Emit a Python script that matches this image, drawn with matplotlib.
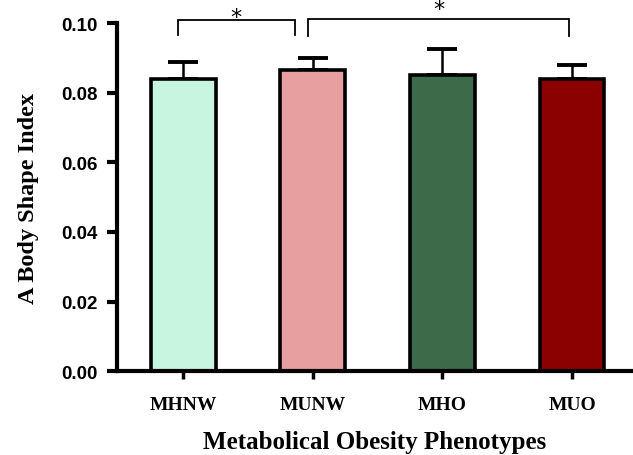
import matplotlib
matplotlib.use("Agg")
import matplotlib.pyplot as plt

categories = ["MHNW", "MUNW", "MHO", "MUO"]
means = [0.0840, 0.0864, 0.0851, 0.0840]
sds = [0.0048, 0.0037, 0.0074, 0.0039]
colors = ["#C8F5DF", "#E89FA0", "#3D6B4A", "#8B0000"]
yticks = [0.00, 0.02, 0.04, 0.06, 0.08, 0.10]
ytick_labels = ["0.00", "0.02", "0.04", "0.06", "0.08", "0.10"]

fig = plt.figure(figsize=(6.33, 4.56), dpi=100)
ax = fig.add_axes([0.185, 0.184, 0.815, 0.763])

x = list(range(len(categories)))
ax.bar(x, means, width=0.5, color=colors, edgecolor="black", linewidth=2.6, zorder=2)
ax.errorbar(x, means, yerr=[[0]*len(sds), sds], fmt="none", ecolor="black",
            elinewidth=1.8, capsize=11, capthick=2.8, zorder=1)

ax.set_xlim(-0.51, 3.47)
ax.set_ylim(0, 0.10)
ax.set_yticks(yticks)
ax.set_yticklabels(ytick_labels, fontfamily="Liberation Sans", fontweight="bold", fontsize=13.5)
ax.set_xticks(x)
ax.set_xticklabels(categories, fontfamily="Liberation Serif", fontweight="bold", fontsize=14)

for s in ["top", "right"]:
    ax.spines[s].set_visible(False)
for s in ["left", "bottom"]:
    ax.spines[s].set_linewidth(3)
ax.tick_params(axis="y", direction="out", length=7, width=3, pad=7)
ax.tick_params(axis="x", direction="out", length=6, width=2.5, pad=12)

ax.set_ylabel("A Body Shape Index", fontfamily="Liberation Serif", fontweight="bold", fontsize=17.5, labelpad=16)
ax.set_xlabel("Metabolical Obesity Phenotypes", fontfamily="Liberation Serif", fontweight="bold", fontsize=18, labelpad=12)

# significance brackets: x0, x1, top, leg bottom, star y
specs = [(-0.04, 0.86, 0.1008, 0.0965, 0.1017), (0.96, 2.98, 0.1012, 0.0962, 0.1042)]
for (x0, x1, ytop, ybot, ystar) in specs:
    ax.plot([x0, x0, x1, x1], [ybot, ytop, ytop, ybot], color="black", lw=1.3,
            clip_on=False, solid_joinstyle="miter")
    ax.text((x0 + x1) / 2, ystar, "*", ha="center", va="center",
            fontsize=16, fontfamily="DejaVu Sans", clip_on=False)

fig.savefig("out.png", dpi=100)
